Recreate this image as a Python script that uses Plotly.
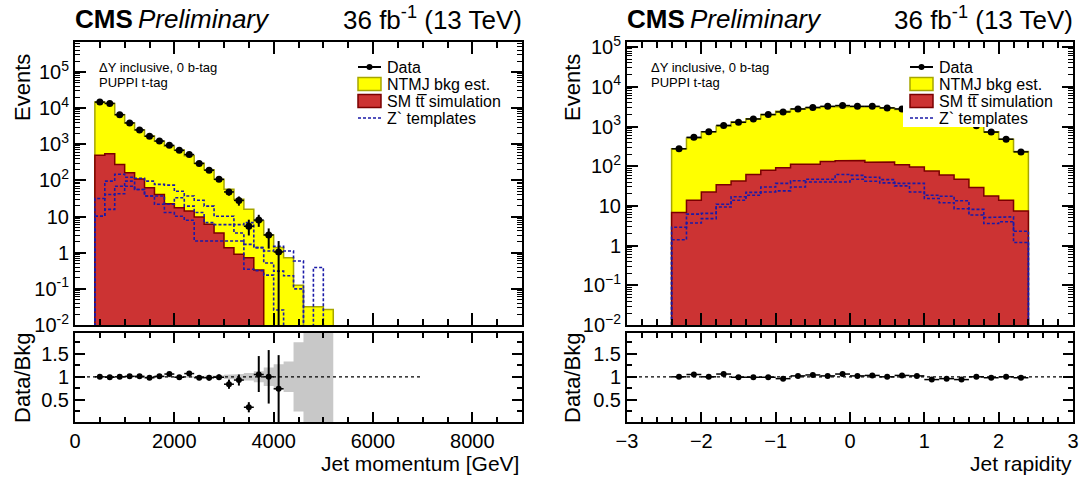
import plotly.graph_objects as go

FONT = "Liberation Sans"

# ---------------- data: jet momentum (left) ----------------
P_EDGES = [400, 600, 800, 1000, 1200, 1400, 1600, 1800, 2000, 2200, 2400, 2600,
           2800, 3000, 3200, 3400, 3600, 3800, 4000, 4200, 4400, 4600, 4800, 5000, 5200]
P_NTMJ = [14200, 12950, 6320, 3690, 2370, 1640, 1180, 858, 672, 471, 290, 190,
          104.5, 55.6, 29.1, 15.3, 7.27, 3.1, 1.4, 0.72, 0.126, 0.032, 0.032, 0.027]
P_TTBAR = [500, 550, 278, 162, 110, 63, 41, 22.5, 17.5, 14.2, 9.7, 6.1,
           3.5, 1.38, 0.91, 0.73, 0.33, 0, 0, 0, 0, 0, 0, 0]
P_ZP1 = [31.6, 95.5, 148, 123, 115, 95.5, 77.6, 74.1, 50.1, 37.2, 28.2, 19.5,
         10.2, 10.2, 6.0, 6.8, 1.38, 1.12, 1.51, 1.12, 0.59, 0, 0.39, 0]
P_ZP2 = [10.2, 40.7, 69.2, 95.5, 56.2, 37.2, 37.2, 21.9, 33.1, 19.5, 12.9, 6.8,
         6.0, 6.0, 3.5, 1.7, 1.38, 0.52, 0.31, 0.23, 0.1, 0, 0, 0]
P_ZP3 = [10.2, 15.8, 42.7, 69.2, 56.2, 37.2, 21.9, 12.9, 10.2, 7.9, 2.1, 2.1,
         2.1, 2.1, 2.1, 0.35, 0.32, 0.24, 0.026, 0, 0, 0, 0, 0]
P_DATA = [14700, 13500, 6600, 3900, 2500, 1670, 1230, 935, 680, 520, 295, 192,
          107, 48, 28, 5.4, 8, 3.1, 1.05]
P_DATA_EUP = [121, 116, 81, 62, 50, 41, 35, 31, 26, 23, 17, 14, 10, 10, 8, 2.8, 3.2, 1.6, 1.05]
P_DATA_EDN = [121, 116, 81, 62, 50, 41, 35, 31, 26, 23, 17, 14, 10, 10, 8, 2.4, 2.8, 1.8, 1.04]
P_RATIO = [1.00, 0.99, 1.00, 1.01, 1.01, 0.98, 1.01, 1.06, 0.99, 1.07, 0.98, 0.98,
           0.99, 0.84, 0.93, 0.34, 1.05, 1.00, 0.74]
P_RATIO_EUP = [0.01, 0.01, 0.015, 0.02, 0.02, 0.025, 0.03, 0.035, 0.04, 0.045, 0.05, 0.06,
               0.06, 0.1, 0.12, 0.11, 0.40, 0.58, 0.73]
P_RATIO_EDN = [0.01, 0.01, 0.015, 0.02, 0.02, 0.025, 0.03, 0.035, 0.04, 0.045, 0.05, 0.06,
               0.06, 0.1, 0.12, 0.11, 0.38, 0.58, 0.74]
P_BAND = [0.004, 0.005, 0.006, 0.008, 0.01, 0.01, 0.012, 0.015, 0.015, 0.018, 0.02, 0.025,
          0.03, 0.045, 0.06, 0.08, 0.12, 0.2, 0.27, 0.33, 0.75, 2, 2, 2]

# ---------------- data: jet rapidity (right) ----------------
Y_EDGES = [-2.4, -2.2, -2.0, -1.8, -1.6, -1.4, -1.2, -1.0, -0.8, -0.6, -0.4, -0.2, 0.0,
           0.2, 0.4, 0.6, 0.8, 1.0, 1.2, 1.4, 1.6, 1.8, 2.0, 2.2, 2.4]
Y_NTMJ = [268, 496, 718, 976, 1250, 1504, 1941, 2336, 2612, 2800, 3036, 3052,
          3027, 3010, 2822, 2590, 2453, 2318, 1867, 1496, 1021, 722, 466, 228]
Y_TTBAR = [6.8, 13.8, 22.4, 34.4, 42.6, 61.7, 79, 91, 113, 113, 131, 137,
           140, 126, 128, 109, 96, 76, 60, 47, 29, 17.8, 13.8, 7.4]
Y_ZP1 = [2.9, 6.2, 6.5, 11, 17, 22, 30, 37, 43, 47, 47, 62,
         59, 53, 46, 37, 37, 18.6, 17.6, 13.5, 8.2, 5.1, 5.3, 2.3]
Y_ZP2 = [1.4, 3.7, 4.8, 9.4, 13.9, 18.6, 22.5, 24, 30, 40, 40, 40,
         47, 42, 38, 32, 22.5, 15.4, 12, 8.5, 5.9, 3.6, 4.0, 1.2]
Y_DATA = [275, 535, 740, 1070, 1280, 1550, 2000, 2330, 2780, 3030, 3230, 3380,
          3230, 3230, 2950, 2780, 2600, 2250, 1850, 1450, 1050, 725, 480, 230]
Y_RATIO = [1.00, 1.05, 1.00, 1.06, 0.99, 0.99, 0.99, 0.96, 1.02, 1.04, 1.02, 1.06,
           1.02, 1.03, 1.00, 1.03, 1.02, 0.94, 0.96, 0.94, 1.00, 0.98, 1.00, 0.98]
Y_RATIO_ERR = [0.02, 0.015, 0.012, 0.01, 0.01, 0.01, 0.008, 0.008, 0.008, 0.008, 0.008, 0.008,
               0.008, 0.008, 0.008, 0.008, 0.008, 0.008, 0.008, 0.01, 0.01, 0.012, 0.015, 0.02]

LOG_TICKS = [0.01, 0.1, 1, 10, 100, 1000, 10000, 100000]
LOG_TEXT_L = ["10<sup>-2</sup>", "10<sup>-1</sup>", "1", "10", "10<sup>2</sup>",
              "10<sup>3</sup>", "10<sup>4</sup>", "10<sup>5</sup>"]
LOG_TEXT_R = ["10<sup>\u22122</sup>", "10<sup>\u22121</sup>", "1", "10", "10<sup>2</sup>",
              "10<sup>3</sup>", "10<sup>4</sup>", "10<sup>5</sup>"]

YELLOW, YELLOW_LINE = "#ffff00", "#a6a600"
RED, RED_LINE = "#cc3333", "#7a0000"
BLUE = "#1a1aa8"
GREY = "#c8c8c8"
FLOOR = 1e-3

W, H = 1081, 480


def px(x):
    return x / W


def py(y):
    return 1 - y / H


def steps(edges, vals, floor):
    xs, ys = [edges[0]], [floor]
    for i, v in enumerate(vals):
        h = v if v > 0 else floor
        xs += [edges[i], edges[i + 1]]
        ys += [h, h]
    xs.append(edges[-1])
    ys.append(floor)
    return xs, ys


def band(edges, errs):
    xu, yu, xl, yl = [], [], [], []
    for i, e in enumerate(errs):
        xu += [edges[i], edges[i + 1]]
        yu += [1 + e, 1 + e]
        xl += [edges[i], edges[i + 1]]
        yl += [1 - e, 1 - e]
    return xu + xl[::-1], yu + yl[::-1]


def centers(edges, n):
    return [(edges[i] + edges[i + 1]) / 2 for i in range(n)]


fig = go.Figure()


def add_panel(edges, ntmj, ttbar, zps, data, deu, ded, ratio, reu, red, band_err,
              xa, ya, xr, yr, line_x):
    total = [a + b for a, b in zip(ntmj, ttbar)]
    xs, ys = steps(edges, total, FLOOR)
    fig.add_trace(go.Scatter(x=xs, y=ys, mode="lines", fill="toself", fillcolor=YELLOW,
                             line=dict(color=YELLOW_LINE, width=1.5), xaxis=xa, yaxis=ya,
                             showlegend=False, hoverinfo="skip"))
    xs, ys = steps(edges, ttbar, FLOOR)
    fig.add_trace(go.Scatter(x=xs, y=ys, mode="lines", fill="toself", fillcolor=RED,
                             line=dict(color=RED_LINE, width=1.5), xaxis=xa, yaxis=ya,
                             showlegend=False, hoverinfo="skip"))
    for zp in zps:
        xs, ys = steps(edges, zp, FLOOR)
        fig.add_trace(go.Scatter(x=xs, y=ys, mode="lines",
                                 line=dict(color=BLUE, width=1.6, dash="3px,2px"),
                                 xaxis=xa, yaxis=ya, showlegend=False, hoverinfo="skip"))
    half = (edges[1] - edges[0]) / 2
    cx = centers(edges, len(data))
    fig.add_trace(go.Scatter(x=cx, y=data, mode="markers",
                             marker=dict(color="black", size=7),
                             error_y=dict(type="data", symmetric=False, array=deu, arrayminus=ded,
                                          color="black", thickness=2, width=0),
                             error_x=dict(type="constant", value=half, color="black",
                                          thickness=1.5, width=0),
                             xaxis=xa, yaxis=ya, showlegend=False))
    # ratio panel
    if band_err is not None:
        bx, by = band(edges, band_err)
        fig.add_trace(go.Scatter(x=bx, y=by, mode="lines", fill="toself", fillcolor=GREY,
                                 line=dict(width=0, color=GREY), xaxis=xr, yaxis=yr,
                                 showlegend=False, hoverinfo="skip"))
    fig.add_trace(go.Scatter(x=line_x, y=[1, 1], mode="lines",
                             line=dict(color="black", width=1.2, dash="3px,3px"),
                             xaxis=xr, yaxis=yr, showlegend=False, hoverinfo="skip"))
    rx = centers(edges, len(ratio))
    fig.add_trace(go.Scatter(x=rx, y=ratio, mode="markers",
                             marker=dict(color="black", size=6),
                             error_y=dict(type="data", symmetric=False, array=reu, arrayminus=red,
                                          color="black", thickness=2, width=0),
                             error_x=dict(type="constant", value=half, color="black",
                                          thickness=1.5, width=0),
                             xaxis=xr, yaxis=yr, showlegend=False))


add_panel(P_EDGES, P_NTMJ, P_TTBAR, [P_ZP1, P_ZP2, P_ZP3], P_DATA, P_DATA_EUP, P_DATA_EDN,
          P_RATIO, P_RATIO_EUP, P_RATIO_EDN, P_BAND, "x", "y", "x2", "y2", [0, 7000])
add_panel(Y_EDGES, Y_NTMJ, Y_TTBAR, [Y_ZP1, Y_ZP2], Y_DATA, [0] * 24, [0] * 24,
          Y_RATIO, Y_RATIO_ERR, Y_RATIO_ERR, None, "x3", "y3", "x4", "y4", [-3, 3])

LX = [px(75), px(522)]
RX = [px(627), px(1073)]
MAIN_Y = [py(325), py(42)]
RAT_Y = [py(422), py(333)]

tickfont = dict(family=FONT, size=20, color="black")
common = dict(showline=True, linecolor="black", linewidth=2, mirror="allticks",
              ticks="inside", tickcolor="black", tickwidth=1.5, showgrid=False,
              zeroline=False, tickfont=tickfont, automargin=False)

minor_log = [k * 10 ** n for n in range(-2, 6) for k in range(2, 10)]
minor_p = [500, 1000, 1500, 2500, 3000, 3500, 4500, 5000, 5500, 6500, 7000, 7500, 8500]

fig.update_layout(
    width=W, height=H, margin=dict(l=0, r=0, t=0, b=0, autoexpand=False),
    paper_bgcolor="white", plot_bgcolor="rgba(0,0,0,0)",
    font=dict(family=FONT, color="black"),
    showlegend=False,
    xaxis=dict(domain=LX, range=[0, 9000], anchor="y", showticklabels=False,
               tickvals=[0, 2000, 4000, 6000, 8000], ticklen=12,
               minor=dict(tickvals=minor_p, ticks="inside", ticklen=6,
                          tickcolor="black", tickwidth=1.5), **common),
    yaxis=dict(domain=MAIN_Y, type="log", range=[-2, 5.83], anchor="x",
               tickvals=LOG_TICKS, ticktext=LOG_TEXT_L, ticklen=11,
               minor=dict(tickvals=minor_log, ticks="inside", ticklen=5,
                          tickcolor="black", tickwidth=1), **common),
    xaxis2=dict(domain=LX, range=[0, 9000], anchor="y2",
                tickvals=[0, 2000, 4000, 6000, 8000], ticktext=["0", "2000", "4000", "6000", "8000"],
                ticklen=10,
                minor=dict(tickvals=minor_p, ticks="inside", ticklen=5,
                           tickcolor="black", tickwidth=1.5), **common),
    yaxis2=dict(domain=RAT_Y, range=[0.02, 1.95], anchor="x2",
                tickvals=[0.5, 1, 1.5], ticktext=["0.5", "1", "1.5"], ticklen=10,
                minor=dict(tickvals=[0.25, 0.75, 1.25, 1.75], ticks="inside", ticklen=5,
                           tickcolor="black", tickwidth=1.5), **common),
    xaxis3=dict(domain=RX, range=[-3, 3], anchor="y3", showticklabels=False,
                tickvals=[-3, -2, -1, 0, 1, 2, 3], ticklen=12,
                minor=dict(dtick=0.2, tick0=-3, ticks="inside", ticklen=6,
                           tickcolor="black", tickwidth=1.5), **common),
    yaxis3=dict(domain=MAIN_Y, type="log", range=[-2, 5.13], anchor="x3",
                tickvals=LOG_TICKS, ticktext=LOG_TEXT_R, ticklen=11,
                minor=dict(tickvals=minor_log, ticks="inside", ticklen=5,
                           tickcolor="black", tickwidth=1), **common),
    xaxis4=dict(domain=RX, range=[-3, 3], anchor="y4",
                tickvals=[-3, -2, -1, 0, 1, 2, 3],
                ticktext=["\u22123", "\u22122", "\u22121", "0", "1", "2", "3"], ticklen=10,
                minor=dict(dtick=0.2, tick0=-3, ticks="inside", ticklen=5,
                           tickcolor="black", tickwidth=1.5), **common),
    yaxis4=dict(domain=RAT_Y, range=[0.02, 1.95], anchor="x4",
                tickvals=[0.5, 1, 1.5], ticktext=["0.5", "1", "1.5"], ticklen=10,
                minor=dict(tickvals=[0.25, 0.75, 1.25, 1.75], ticks="inside", ticklen=5,
                           tickcolor="black", tickwidth=1.5), **common),
)

ann = []
shapes = []


def text(x, y, s, size, xanchor="left", yanchor="middle", angle=0, **kw):
    ann.append(dict(x=px(x), y=py(y), xref="paper", yref="paper", text=s, showarrow=False,
                    xanchor=xanchor, yanchor=yanchor, textangle=angle,
                    font=dict(family=FONT, size=size, color="black"), **kw))


for left, right, title_x, note_x in ((75, 522, 22, 97), (627, 1073, 572, 649)):
    text(left - 2, 19, "<b>CMS</b>", 26)
    text(left + 61, 19, "<i>Preliminary</i>", 26)
    text(right + 2, 19, "36 fb<sup>-1</sup> (13 TeV)", 26, xanchor="right")
    text(title_x, 88, "Events", 22, xanchor="center", angle=-90)
    text(title_x, 378, "Data/Bkg", 22, xanchor="center", angle=-90)
    text(note_x, 67, "\u0394Y inclusive, 0 b-tag", 13)
    text(note_x, 82, "PUPPI t-tag", 13)

text(521, 463, "Jet momentum [GeV]", 21, xanchor="right")
text(1074, 463, "Jet rapidity", 21, xanchor="right")

# white legend background on the right panel
shapes.append(dict(type="rect", xref="paper", yref="paper", x0=px(903), x1=px(1052),
                   y0=py(127), y1=py(58), fillcolor="white", line=dict(width=0), layer="above"))

ROWS = [67, 84, 101, 118]
for sx in (358, 910):
    x0, x1 = sx, sx + 23
    shapes.append(dict(type="line", xref="paper", yref="paper", x0=px(x0), x1=px(x1),
                       y0=py(ROWS[0]), y1=py(ROWS[0]), line=dict(color="black", width=2),
                       layer="above"))
    shapes.append(dict(type="circle", xref="paper", yref="paper", x0=px(x0 + 8.5), x1=px(x0 + 14.5),
                       y0=py(ROWS[0] + 3), y1=py(ROWS[0] - 3), fillcolor="black",
                       line=dict(width=0), layer="above"))
    shapes.append(dict(type="rect", xref="paper", yref="paper", x0=px(x0), x1=px(x1),
                       y0=py(ROWS[1] + 6.5), y1=py(ROWS[1] - 6.5), fillcolor=YELLOW,
                       line=dict(color=YELLOW_LINE, width=1.5), layer="above"))
    shapes.append(dict(type="rect", xref="paper", yref="paper", x0=px(x0), x1=px(x1),
                       y0=py(ROWS[2] + 6.5), y1=py(ROWS[2] - 6.5), fillcolor=RED,
                       line=dict(color=RED_LINE, width=1.5), layer="above"))
    shapes.append(dict(type="line", xref="paper", yref="paper", x0=px(x0), x1=px(x1),
                       y0=py(ROWS[3]), y1=py(ROWS[3]), line=dict(color=BLUE, width=1.5, dash="3px,2px"),
                       layer="above"))
    tx = x1 + 4
    text(tx, ROWS[0], "Data", 16)
    text(tx, ROWS[1], "NTMJ bkg est.", 16)
    text(tx, ROWS[2], "SM tt\u0305 simulation", 16)
    text(tx, ROWS[3], "Z` templates", 16)

fig.update_layout(annotations=ann, shapes=shapes)
fig.write_html("out.html")
